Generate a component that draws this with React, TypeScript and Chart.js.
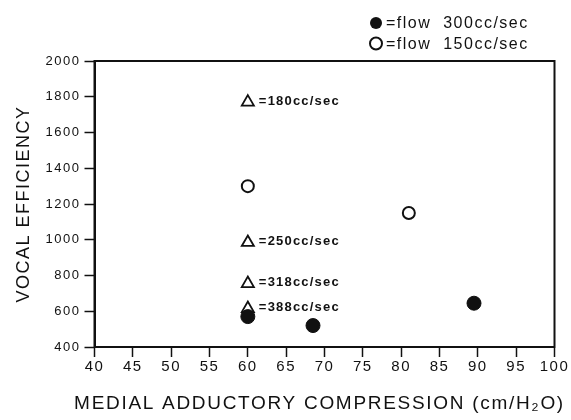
import React, { useEffect, useRef } from "react";
import { Chart, registerables } from "chart.js";

Chart.register(...registerables);

// ---- data ----
const FLOW300_X = [60, 68.5, 89.5];
const FLOW300_Y = [570, 520, 645];
const FLOW150_X = [60, 81];
const FLOW150_Y = [1300, 1150];
const TRI_X = [60, 60, 60, 60];
const TRI_Y = [1770, 985, 755, 615];
const TRI_LABELS = ["=180cc/sec", "=250cc/sec", "=318cc/sec", "=388cc/sec"];
const LEGEND_LABELS = ["=flow  300cc/sec", "=flow  150cc/sec"];
const X_TITLE = "MEDIAL ADDUCTORY COMPRESSION (cm/H\u2082O)";
const Y_TITLE = "VOCAL EFFICIENCY";
const X_MIN = 40;
const X_MAX = 100;
const X_STEP = 5;
const Y_MIN = 400;
const Y_MAX = 2000;
const Y_STEP = 200;

const FONT = "'Liberation Sans', Arial, Helvetica, sans-serif";
const INK = "#111";
const SPACING = "1.5px";

const toPoints = (xs: number[], ys: number[]) => xs.map((x, i) => ({ x, y: ys[i] }));

const spacingPlugin = {
  id: "spacing",
  beforeLayout(chart: any) {
    chart.ctx.letterSpacing = SPACING;
  },
  beforeDraw(chart: any) {
    chart.ctx.letterSpacing = SPACING;
  },
};

const boxPlugin = {
  id: "box",
  beforeDatasetsDraw(chart: any) {
    const { ctx, chartArea: a } = chart;
    ctx.save();
    ctx.strokeStyle = INK;
    ctx.lineWidth = 2;
    ctx.strokeRect(a.left, a.top, a.right - a.left, a.bottom - a.top);
    ctx.restore();
  },
};

const triLabelPlugin = {
  id: "triLabels",
  afterDatasetsDraw(chart: any) {
    const { ctx } = chart;
    const meta = chart.getDatasetMeta(2);
    ctx.save();
    ctx.letterSpacing = "1.2px";
    ctx.fillStyle = INK;
    ctx.font = `bold 13px ${FONT}`;
    ctx.textAlign = "left";
    ctx.textBaseline = "middle";
    meta.data.forEach((el: any, i: number) => {
      ctx.fillText(TRI_LABELS[i], el.x + 11, el.y - 1);
    });
    ctx.restore();
  },
};

// x-axis title drawn without Chart.js's maxWidth clamp (the original runs wider than the plot)
const xTitlePlugin = {
  id: "xTitle",
  afterDraw(chart: any) {
    const { ctx, chartArea: a } = chart;
    ctx.save();
    ctx.letterSpacing = "1.7px";
    ctx.fillStyle = INK;
    ctx.font = `19px ${FONT}`;
    ctx.textAlign = "center";
    ctx.textBaseline = "middle";
    ctx.fillText(X_TITLE, (a.left + a.right) / 2 - 5, 404);
    ctx.restore();
  },
};

const legendPlugin = {
  id: "customLegend",
  afterDraw(chart: any) {
    const { ctx } = chart;
    ctx.save();
    ctx.letterSpacing = SPACING;
    ctx.font = `16px ${FONT}`;
    ctx.textAlign = "left";
    ctx.textBaseline = "middle";
    const x0 = 376;
    const ys = [23, 43.5];
    LEGEND_LABELS.forEach((t, i) => {
      const y = ys[i];
      ctx.beginPath();
      ctx.arc(x0, y, 6, 0, Math.PI * 2);
      if (i === 0) {
        ctx.fillStyle = INK;
        ctx.fill();
      } else {
        ctx.fillStyle = "#fff";
        ctx.fill();
        ctx.lineWidth = 2;
        ctx.strokeStyle = INK;
        ctx.stroke();
      }
      ctx.fillStyle = INK;
      ctx.fillText(t, x0 + 10, y + 1);
    });
    ctx.restore();
  },
};

export default function App() {
  const ref = useRef<HTMLCanvasElement | null>(null);

  useEffect(() => {
    if (!ref.current) return;
    const chart = new Chart(ref.current, {
      type: "scatter",
      data: {
        datasets: [
          {
            label: LEGEND_LABELS[0],
            data: toPoints(FLOW300_X, FLOW300_Y),
            pointStyle: "circle",
            pointRadius: 7,
            pointBackgroundColor: INK,
            pointBorderColor: INK,
            pointBorderWidth: 1,
          },
          {
            label: LEGEND_LABELS[1],
            data: toPoints(FLOW150_X, FLOW150_Y),
            pointStyle: "circle",
            pointRadius: 6,
            pointBackgroundColor: "#fff",
            pointBorderColor: INK,
            pointBorderWidth: 2,
          },
          {
            label: "flow rates",
            data: toPoints(TRI_X, TRI_Y),
            pointStyle: "triangle",
            pointRadius: 7,
            pointBackgroundColor: "rgba(0,0,0,0)",
            pointBorderColor: INK,
            pointBorderWidth: 1.8,
          },
        ],
      },
      options: {
        animation: false,
        responsive: false,
        layout: { padding: { top: 61, right: 16.5, left: 0, bottom: 0 } },
        plugins: {
          legend: { display: false },
          tooltip: { enabled: false },
        },
        scales: {
          x: {
            type: "linear",
            min: X_MIN,
            max: X_MAX,
            afterFit(scale: any) {
              scale.height = 73;
            },
            ticks: {
              stepSize: X_STEP,
              color: INK,
              padding: 1,
              maxRotation: 0,
              font: { family: FONT, size: 15 },
              callback: (v: any) => String(v),
            },
            grid: {
              display: true,
              drawOnChartArea: false,
              drawTicks: true,
              tickLength: 10,
              tickWidth: 1.5,
              color: INK,
            },
            border: { display: true, color: INK, width: 2 },
            title: { display: false, text: X_TITLE },
          },
          y: {
            type: "linear",
            min: Y_MIN,
            max: Y_MAX,
            afterFit(scale: any) {
              scale.width = 94.5;
            },
            ticks: {
              stepSize: Y_STEP,
              color: INK,
              padding: 4,
              font: { family: FONT, size: 13 },
              callback: (v: any) => String(v),
            },
            grid: {
              display: true,
              drawOnChartArea: false,
              drawTicks: true,
              tickLength: 10,
              tickWidth: 1.5,
              color: INK,
            },
            border: { display: true, color: INK, width: 2 },
            title: {
              display: true,
              text: Y_TITLE,
              color: INK,
              font: { family: FONT, size: 18 },
              padding: { top: 13, bottom: 0 },
            },
          },
        },
      },
      plugins: [spacingPlugin, boxPlugin, triLabelPlugin, xTitlePlugin, legendPlugin],
    });
    return () => chart.destroy();
  }, []);

  return (
    <div style={{ position: "absolute", left: 0, top: 0, width: 571, height: 420, background: "#fff" }}>
      <canvas ref={ref} width={571} height={420} />
    </div>
  );
}
